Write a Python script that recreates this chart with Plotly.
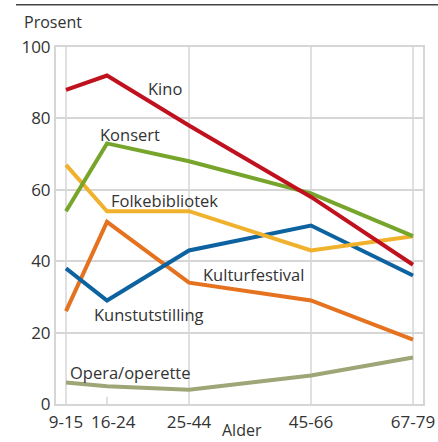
import plotly.graph_objects as go

categories = ["9-15", "16-24", "25-44", "45-66", "67-79"]
# horizontal placement of the age groups on the axis (uneven spacing as in the original)
category_positions = [66, 107, 189, 311, 413]

kino = [88, 92, 78, 58, 39]
konsert = [54, 73, 68, 59, 47]
folkebibliotek = [67, 54, 54, 43, 47]
kulturfestival = [38, 29, 43, 50, 36]
kunstutstilling = [26, 51, 34, 29, 18]
opera = [6, 5, 4, 8, 13]

series = [
    ("Opera/operette", opera, "#9ea577"),
    ("Kunstutstilling", kunstutstilling, "#e5721f"),
    ("Kulturfestival", kulturfestival, "#0d62a0"),
    ("Folkebibliotek", folkebibliotek, "#f0b12d"),
    ("Konsert", konsert, "#77a52b"),
    ("Kino", kino, "#c0111f"),
]

FONT = "Open Sans"
TXT = "#333333"
GRID = "#d6d6d6"

fig = go.Figure()
for name, vals, col in series:
    fig.add_trace(go.Scatter(
        x=category_positions, y=vals, mode="lines", name=name,
        line=dict(color=col, width=4), showlegend=False, hoverinfo="skip"))

# vertical gridlines (none at 16-24, only a small tick there)
shapes = []
for i, xp in enumerate(category_positions):
    if i == 1:
        shapes.append(dict(type="line", xref="x", yref="y", x0=xp, x1=xp, y0=0, y1=2,
                           line=dict(color=GRID, width=1.5), layer="below"))
    else:
        shapes.append(dict(type="line", xref="x", yref="y", x0=xp, x1=xp, y0=0, y1=100,
                           line=dict(color=GRID, width=1.5), layer="below"))
# top dark rule
shapes.append(dict(type="line", xref="paper", yref="paper", x0=-0.109, x1=1.05,
                   y0=1.118, y1=1.118, line=dict(color="#444444", width=1.5)))

labels = [
    ("Kino", 165, 88),
    ("Konsert", 130, 134),
    ("Folkebibliotek", 164, 200),
    ("Kulturfestival", 253, 274),
    ("Kunstutstilling", 149, 314),
    ("Opera/operette", 130, 372),
]
annotations = []
for text, px, py in labels:
    annotations.append(dict(
        text=text, xref="x", yref="paper", x=px,
        y=(404 - py) / 357, showarrow=False,
        xanchor="center", yanchor="middle",
        font=dict(family=FONT, size=16.5, color=TXT)))
annotations.append(dict(text="Prosent", xref="paper", yref="paper",
                        x=(22 - 56) / 368, y=(404 - 22) / 357,
                        xanchor="left", yanchor="middle", showarrow=False,
                        font=dict(family=FONT, size=16, color=TXT)))
annotations.append(dict(text="Alder", xref="paper", yref="paper",
                        x=(243 - 56) / 368, y=(404 - 430) / 357,
                        xanchor="center", yanchor="middle", showarrow=False,
                        font=dict(family=FONT, size=16, color=TXT)))
# the 16-24 label is nudged right of its tick to clear the 9-15 label
annotations.append(dict(text=categories[1], xref="x", yref="paper",
                        x=category_positions[1], xshift=6, y=(404 - 421) / 357,
                        xanchor="center", yanchor="middle", showarrow=False,
                        font=dict(family=FONT, size=17, color=TXT)))

tick_idx = [0, 2, 3, 4]
fig.update_layout(
    width=438, height=442,
    margin=dict(l=56, r=15, t=47, b=38),
    paper_bgcolor="white", plot_bgcolor="white",
    font=dict(family=FONT, size=17, color=TXT),
    shapes=shapes, annotations=annotations,
    xaxis=dict(range=[56, 423], tickvals=[category_positions[i] for i in tick_idx],
               ticktext=[categories[i] for i in tick_idx],
               showgrid=False, zeroline=False, showline=True, mirror=True,
               linecolor=GRID, linewidth=2, ticks="", fixedrange=True,
               tickangle=0, automargin=False, ticklabelstandoff=2,
               tickfont=dict(family=FONT, size=17, color=TXT)),
    yaxis=dict(range=[0, 100], tickvals=[0, 20, 40, 60, 80, 100],
               showgrid=True, gridcolor=GRID, gridwidth=1.5, zeroline=False,
               showline=True, mirror=True, linecolor=GRID, linewidth=2,
               ticks="", automargin=False,
               tickfont=dict(family=FONT, size=17, color=TXT)),
)

fig.write_html("out.html", config={"displayModeBar": False},
               post_script="document.body.style.margin='0';document.body.style.overflow='hidden';")
